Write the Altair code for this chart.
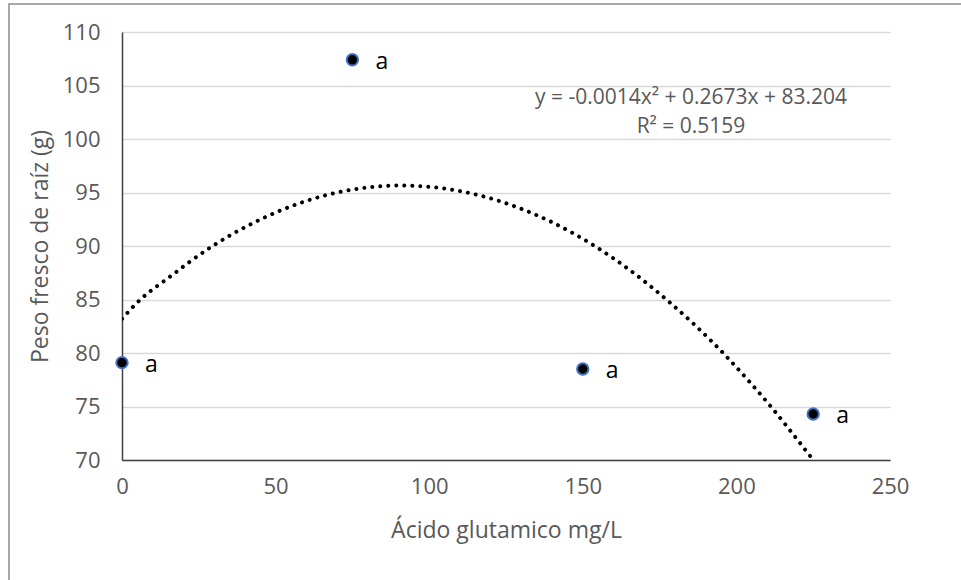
import altair as alt
import pandas as pd

# Observed points
dose = [0, 75, 150, 225]
peso = [79.1, 107.4, 78.5, 74.3]
letra = ["a", "a", "a", "a"]

# Polynomial trend line
trend_x = [0, 6, 15, 29.5, 40, 50, 60, 70, 80, 90, 100, 110.6, 120, 130, 140,
           154.4, 165, 178, 187, 197, 205, 211.2, 218, 225]
trend_y = [83.2, 85.0, 87.0, 90.0, 91.75, 93.13, 94.21, 95.0, 95.47, 95.65, 95.53, 95.1,
           94.45, 93.47, 92.22, 89.9, 87.82, 84.8, 82.47, 79.6, 77.07, 75.0, 72.58, 70.0]

eq_lines = ["y = -0.0014x\u00b2 + 0.2673x + 83.204", "R\u00b2 = 0.5159"]
x_ticks = [0, 50, 100, 150, 200, 250]
y_ticks = [70, 75, 80, 85, 90, 95, 100, 105, 110]

pts = pd.DataFrame({"x": dose, "y": peso, "lab": letra})
trend = pd.DataFrame({"x": trend_x, "y": trend_y})

FONT = "Open Sans"
GRAY = "#595959"

xs = alt.Scale(domain=[0, 250], nice=False, zero=False)
ys = alt.Scale(domain=[70, 110], nice=False, zero=False)

xaxis = alt.Axis(values=x_ticks, grid=False, ticks=False, domainColor="#404040",
                 domainWidth=1.5, labelFont=FONT, labelFontSize=22, labelColor=GRAY,
                 labelPadding=16, labelFlush=False, title="Ácido glutamico mg/L",
                 titleFont=FONT, titleFontSize=23, titleFontWeight="normal",
                 titleColor=GRAY, titleBaseline="middle", titleY=70, titleX=384,
                 titleAlign="center")
yaxis = alt.Axis(values=y_ticks, grid=True, gridColor="#d9d9d9", gridWidth=1.5,
                 ticks=False, domainColor="#404040", domainWidth=1.5,
                 labelFont=FONT, labelFontSize=22, labelColor=GRAY, labelPadding=22,
                 labelBaseline="middle", labelFlush=False,
                 title="Peso fresco de raíz (g)", titleFont=FONT, titleFontSize=23,
                 titleFontWeight="normal", titleColor=GRAY, titleAngle=-90,
                 titleBaseline="middle", titleX=-82, titleY=214, titleAlign="center")

border = alt.Chart(pd.DataFrame({"k": [0]})).mark_rect(
    fill=None, stroke="#8c8c8c", strokeWidth=1.5, clip=False
).encode(x=alt.value(-113), x2=alt.value(900), y=alt.value(-28), y2=alt.value(700))

line = alt.Chart(trend).mark_line(
    color="black", strokeWidth=4, strokeDash=[0.01, 8], strokeCap="round",
    interpolate="monotone", clip=True
).encode(x=alt.X("x:Q", scale=xs, axis=xaxis), y=alt.Y("y:Q", scale=ys, axis=yaxis))

points = alt.Chart(pts).mark_point(
    filled=True, fill="black", stroke="#4472C4", strokeWidth=2, size=130, opacity=1,
    shape="circle"
).encode(x=alt.X("x:Q", scale=xs), y=alt.Y("y:Q", scale=ys))

labels = alt.Chart(pts).mark_text(
    align="left", baseline="middle", dx=23, dy=2, font=FONT, fontSize=23, color="black"
).encode(x=alt.X("x:Q", scale=xs), y=alt.Y("y:Q", scale=ys), text="lab:N")

eq1 = alt.Chart(pd.DataFrame({"t": [eq_lines[0]]})).mark_text(
    align="center", baseline="middle", font=FONT, fontSize=21, color=GRAY
).encode(x=alt.value(569), y=alt.value(66), text="t:N")
eq2 = alt.Chart(pd.DataFrame({"t": [eq_lines[1]]})).mark_text(
    align="center", baseline="middle", font=FONT, fontSize=21, color=GRAY
).encode(x=alt.value(569), y=alt.value(95), text="t:N")

chart = alt.layer(border, line, points, labels, eq1, eq2).properties(
    width=768, height=428,
    autosize=alt.AutoSizeParams(type="none"),
    padding={"left": 122, "top": 32, "right": 71, "bottom": 120},
    background="white",
).configure_view(stroke=None)

chart.save("out.html", embed_options={"renderer": "svg", "actions": False})
